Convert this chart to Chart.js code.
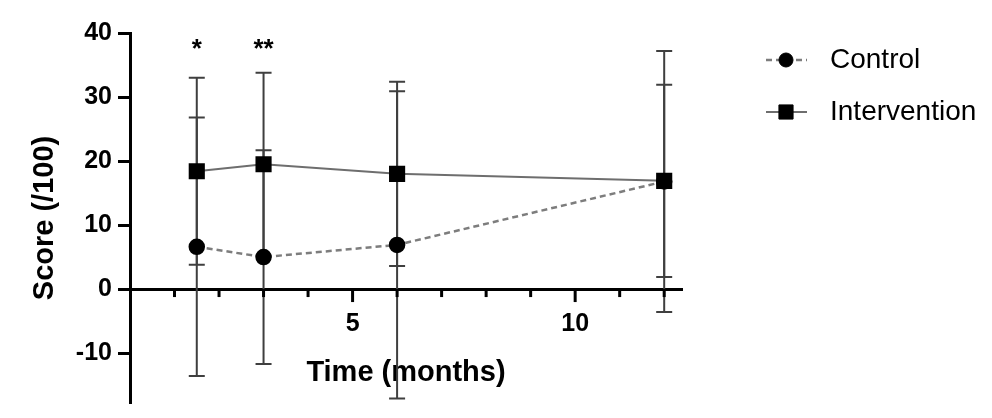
<!DOCTYPE html>
<html>
<head>
<meta charset="utf-8">
<script src="https://cdn.jsdelivr.net/npm/chart.js@4.4.1/dist/chart.umd.min.js"></script>
<style>
  html, body { margin: 0; padding: 0; background: #fff; }
</style>
</head>
<body>
<canvas id="graficoScore" width="992" height="418"></canvas>
<script>
// data
const months = [1.5, 3, 6, 12];
const controlMean = [6.6, 5.0, 6.9, 16.8];
const controlSD = [20.2, 16.7, 24.0, 20.4];
const interventionMean = [18.4, 19.5, 18.0, 16.9];
const interventionSD = [14.6, 14.3, 14.4, 15.0];
const significance = ['*', '**', '', ''];

const yTicks = [-10, 0, 10, 20, 30, 40];
const xTickLabels = [5, 10];
const xMinorTicks = [1, 2, 3, 4, 5, 6, 7, 8, 9, 10, 11, 12];

const sdBySeries = [controlSD, interventionSD];

Chart.defaults.font.family = '"Liberation Sans", Arial, Helvetica, sans-serif';

const errorBars = {
    id: 'errorBars',
    beforeDatasetsDraw(chart) {
        const { ctx, scales: { x, y } } = chart;
        ctx.save();
        ctx.strokeStyle = '#3f3f3f';
        ctx.lineWidth = 2;
        chart.data.datasets.forEach((ds, d) => {
            ds.data.forEach((p, i) => {
                const px = x.getPixelForValue(p.x);
                const top = y.getPixelForValue(p.y + sdBySeries[d][i]);
                const bot = y.getPixelForValue(p.y - sdBySeries[d][i]);
                ctx.beginPath();
                ctx.moveTo(px, top); ctx.lineTo(px, bot);
                ctx.moveTo(px - 8, top); ctx.lineTo(px + 8, top);
                ctx.moveTo(px - 8, bot); ctx.lineTo(px + 8, bot);
                ctx.stroke();
            });
        });
        ctx.restore();
    },
    afterDatasetsDraw(chart) {
        const { ctx, scales: { x, y } } = chart;
        ctx.save();
        // x axis tick marks (long at 5 and 10)
        ctx.strokeStyle = '#000';
        ctx.lineWidth = 3;
        const y0 = y.getPixelForValue(0);
        xMinorTicks.forEach(v => {
            const px = x.getPixelForValue(v);
            const len = xTickLabels.includes(v) ? 13 : 8;
            ctx.beginPath();
            ctx.moveTo(px, y0);
            ctx.lineTo(px, y0 + len);
            ctx.stroke();
        });
        // asterisks
        ctx.fillStyle = '#000';
        ctx.font = 'bold 26px "Liberation Sans", Arial, sans-serif';
        ctx.textAlign = 'center';
        ctx.textBaseline = 'middle';
        significance.forEach((s, i) => {
            if (s) ctx.fillText(s, x.getPixelForValue(months[i]), y.getPixelForValue(37.3));
        });
        ctx.restore();
    },
    afterDraw(chart) {
        // legend: line + marker, then label
        const { ctx, chartArea } = chart;
        const lx = chartArea.right + 84;
        ctx.save();
        chart.data.datasets.forEach((ds, i) => {
            const ly = 60 + i * 52;
            ctx.strokeStyle = ds.borderColor;
            ctx.lineWidth = ds.borderWidth;
            ctx.setLineDash(ds.borderDash || []);
            ctx.beginPath();
            ctx.moveTo(lx, ly);
            ctx.lineTo(lx + 41, ly);
            ctx.stroke();
            ctx.setLineDash([]);
            ctx.fillStyle = '#000';
            ctx.strokeStyle = '#000';
            ctx.lineWidth = 1;
            Chart.helpers.drawPoint(ctx, { pointStyle: ds.pointStyle, radius: ds.pointRadius, rotation: 0, borderWidth: 1 }, lx + 20, ly);
            ctx.font = '28px "Liberation Sans", Arial, sans-serif';
            ctx.textAlign = 'left';
            ctx.textBaseline = 'middle';
            ctx.fillText(ds.label, lx + 64, ly);
        });
        ctx.restore();
    }
};

const ctx = document.getElementById('graficoScore').getContext('2d');

new Chart(ctx, {
    type: 'line',
    data: {
        datasets: [
            {
                label: 'Control',
                data: months.map((m, i) => ({ x: m, y: controlMean[i] })),
                borderColor: '#7d7d7d',
                borderWidth: 2.5,
                borderDash: [6, 4],
                pointStyle: 'circle',
                pointRadius: 7,
                pointBackgroundColor: '#000',
                pointBorderColor: '#000',
                clip: false
            },
            {
                label: 'Intervention',
                data: months.map((m, i) => ({ x: m, y: interventionMean[i] })),
                borderColor: '#6e6e6e',
                borderWidth: 2,
                pointStyle: 'rect',
                pointRadius: 10,
                pointBackgroundColor: '#000',
                pointBorderColor: '#000',
                clip: false
            }
        ]
    },
    options: {
        responsive: false,
        animation: false,
        layout: { padding: { left: 20, top: 33, right: 310, bottom: 15 } },
        plugins: {
            legend: { display: false },
            tooltip: { enabled: false }
        },
        scales: {
            x: {
                type: 'linear',
                min: 0,
                max: 12.4,
                position: { y: 0 },
                afterBuildTicks: s => { s.ticks = xTickLabels.map(v => ({ value: v })); },
                grid: { drawOnChartArea: false, drawTicks: false },
                border: { color: '#000', width: 3 },
                ticks: { color: '#000', padding: 20, maxRotation: 0, font: { size: 25, weight: 'bold' } },
                title: {
                    display: true,
                    text: 'Time (months)',
                    color: '#000',
                    font: { size: 29, weight: 'bold' },
                    padding: { top: -3, bottom: 0 }
                }
            },
            y: {
                min: -17.8,
                max: 40,
                afterBuildTicks: s => { s.ticks = yTicks.map(v => ({ value: v })); },
                afterFit: s => { s.width = 110; s.paddingBottom = 0; },
                grid: { drawOnChartArea: false, drawTicks: true, tickLength: 12, tickColor: '#000', tickWidth: 3 },
                border: { color: '#000', width: 3 },
                ticks: { color: '#000', padding: 6, font: { size: 25, weight: 'bold' } },
                title: {
                    display: true,
                    text: 'Score (/100)',
                    color: '#000',
                    font: { size: 29, weight: 'bold' },
                    padding: { top: 8, bottom: 4 }
                }
            }
        }
    },
    plugins: [errorBars]
});
</script>
</body>
</html>
